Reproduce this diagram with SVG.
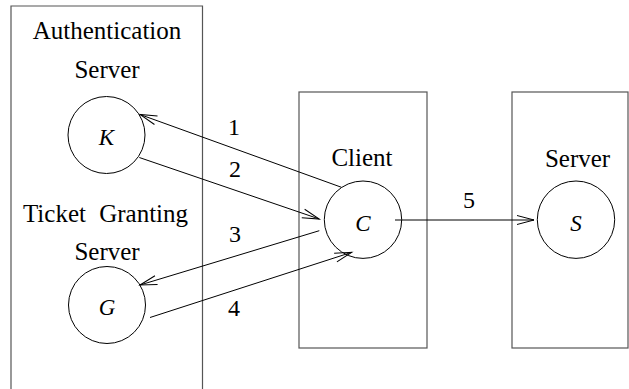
<svg xmlns="http://www.w3.org/2000/svg" width="629" height="389" viewBox="0 0 629 389">
  <style>
    .box { fill: none; stroke: #555; stroke-width: 1.2; }
    .node { fill: #fff; stroke: #000; stroke-width: 1; }
    .lbl { font-family: "Liberation Serif", "Times New Roman", serif; font-size: 25px; fill: #000; text-anchor: middle; }
    .var { font-family: "Liberation Serif", "Times New Roman", serif; font-size: 23px; font-style: italic; fill: #000; text-anchor: middle; }
    .num { font-family: "Liberation Serif", "Times New Roman", serif; font-size: 24px; fill: #000; text-anchor: middle; }
    .edge { fill: none; stroke: #000; stroke-width: 1; }
  </style>
  <defs>
    <marker id="open" markerUnits="userSpaceOnUse" markerWidth="20" markerHeight="12" viewBox="-18 -6 20 12" refX="0" refY="0" orient="auto">
      <path d="M-17,-4.5 L0,0 L-17,4.5" fill="none" stroke="#000" stroke-width="1"/>
    </marker>
  </defs>
  <rect width="629" height="389" fill="#fff"/>

  <!-- Authentication / Ticket Granting host -->
  <g id="kdc-box">
    <path class="box" d="M11,395 V6 H202.5 V395"/>
    <text class="lbl" x="107" y="39">Authentication</text>
    <text class="lbl" x="107" y="78">Server</text>
    <text class="lbl" x="105.5" y="222" word-spacing="7">Ticket Granting</text>
    <text class="lbl" x="107" y="260">Server</text>
  </g>

  <g id="client-box">
    <rect class="box" x="299" y="92" width="128" height="256"/>
    <text class="lbl" x="362" y="166">Client</text>
  </g>

  <g id="server-box">
    <rect class="box" x="512" y="92" width="116" height="256"/>
    <text class="lbl" x="577.5" y="167">Server</text>
  </g>

  <g id="node-K">
    <circle class="node" cx="106.5" cy="135" r="38.5"/>
    <text class="var" x="106.5" y="145">K</text>
  </g>
  <g id="node-G">
    <circle class="node" cx="107" cy="305" r="38.5"/>
    <text class="var" x="107" y="315">G</text>
  </g>
  <g id="node-C">
    <circle class="node" cx="363" cy="219.7" r="38.7"/>
    <text class="var" x="363" y="231">C</text>
  </g>
  <g id="node-S">
    <circle class="node" cx="576" cy="219.7" r="38.7"/>
    <text class="var" x="576" y="231">S</text>
  </g>

  <!-- message flows -->
  <g id="connectors">
    <line class="edge" x1="341.5" y1="187.3" x2="140" y2="114.5" marker-end="url(#open)"/>
    <line class="edge" x1="139.3" y1="157.5" x2="319.3" y2="219" marker-end="url(#open)"/>
    <line class="edge" x1="319.3" y1="230.7" x2="140" y2="285" marker-end="url(#open)"/>
    <line class="edge" x1="150" y1="317.5" x2="351.7" y2="252.3" marker-end="url(#open)"/>
    <line class="edge" x1="395" y1="220" x2="534" y2="220" marker-end="url(#open)"/>
    <text class="num" x="234" y="135">1</text>
    <text class="num" x="235" y="177">2</text>
    <text class="num" x="235" y="242">3</text>
    <text class="num" x="234" y="316">4</text>
    <text class="num" x="469" y="208">5</text>
  </g>
</svg>
